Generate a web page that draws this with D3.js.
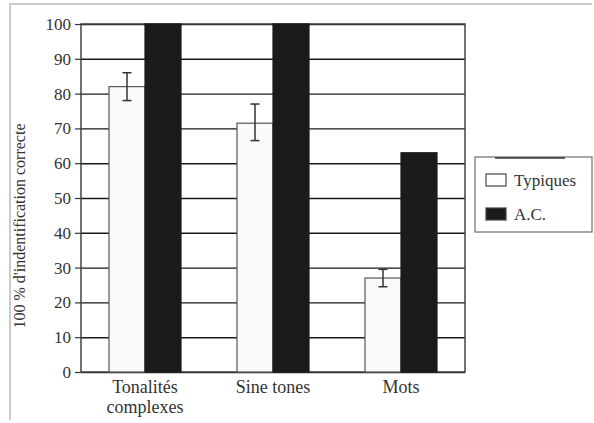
<!DOCTYPE html>
<html>
<head>
<meta charset="utf-8">
<script src="https://cdn.jsdelivr.net/npm/d3@7"></script>
<style>
  body { margin: 0; background: #fff; }
</style>
</head>
<body>
<div id="chart"></div>
<script>
  // data
  var categories = ["Tonalités complexes", "Sine tones", "Mots"];
  var series = ["Typiques", "A.C."];
  var typiques = [82, 71.5, 27];
  var typiquesLow = [78, 66.5, 24.5];
  var typiquesHigh = [86, 77, 29.5];
  var ac = [100, 100, 63];
  var yTicks = [0, 10, 20, 30, 40, 50, 60, 70, 80, 90, 100];

  var serif = "'Liberation Serif'";

  var maxWidth = 594, maxHeight = 423;
  var margin = { top: 24, right: 129, bottom: 51, left: 81 },
    width = maxWidth - margin.left - margin.right,
    height = maxHeight - margin.top - margin.bottom;

  var root = d3.select("#chart").append("svg")
    .attr("width", maxWidth)
    .attr("height", maxHeight);

  // faint frame of the scanned page
  root.append("path")
    .attr("d", "M10,420 L10,4 L592,4")
    .attr("fill", "none")
    .attr("stroke", "#bbb")
    .attr("stroke-width", 1.5);

  var svg = root.append("g")
    .attr("transform", "translate(" + margin.left + "," + margin.top + ")");

  var x = d3.scaleBand()
    .range([0, width])
    .domain(categories);

  var xSub = d3.scaleBand()
    .domain(series)
    .range([0, 72]);

  var y = d3.scaleLinear()
    .range([height, 0])
    .domain([0, 100]);

  // gridlines
  var yAxis = d3.axisLeft(y)
    .tickValues(yTicks)
    .tickSize(-width)
    .tickFormat("");

  svg.append("g")
    .attr("class", "grid")
    .call(yAxis)
    .call(g => g.select(".domain").remove())
    .selectAll("line")
    .attr("stroke", "#1a1a1a")
    .attr("stroke-width", 1.4);

  // frame of plot
  svg.append("rect")
    .attr("width", width)
    .attr("height", height)
    .attr("fill", "none")
    .attr("stroke", "#444")
    .attr("stroke-width", 1.5);

  // tick labels with small outer ticks
  var yLab = svg.append("g")
    .call(d3.axisLeft(y).tickValues(yTicks).tickSize(6).tickPadding(4))
    .call(g => g.select(".domain").remove());
  yLab.selectAll("line").attr("stroke", "#333").attr("stroke-width", 1.2);
  yLab.selectAll("text")
    .style("font-size", "17px")
    .style("font-family", serif)
    .style("fill", "#333");

  var data = categories.map(function (c, i) {
    return { cat: c, vals: [
      { key: "Typiques", v: typiques[i], lo: typiquesLow[i], hi: typiquesHigh[i] },
      { key: "A.C.", v: ac[i] }
    ] };
  });

  var groups = svg.selectAll(".grp")
    .data(data)
    .enter().append("g")
    .attr("class", "grp")
    .attr("transform", function (d) {
      return "translate(" + (x(d.cat) + x.bandwidth() / 2 - 36) + ",0)";
    });

  groups.selectAll("rect")
    .data(function (d) { return d.vals; })
    .enter().append("rect")
    .attr("x", function (d) { return xSub(d.key); })
    .attr("width", xSub.bandwidth())
    .attr("y", function (d) { return y(d.v); })
    .attr("height", function (d) { return height - y(d.v); })
    .style("fill", function (d) { return d.key == "A.C." ? "#1b1b1b" : "#fafafa"; })
    .style("stroke", function (d) { return d.key == "A.C." ? "#1b1b1b" : "#555"; })
    .style("stroke-width", 1.2);

  // error bars
  var err = groups.selectAll(".err")
    .data(function (d) { return d.vals.filter(function (v) { return v.lo != null; }); })
    .enter().append("g")
    .attr("class", "err")
    .attr("stroke", "#333")
    .attr("stroke-width", 1.5);

  var cx = function (d) { return xSub(d.key) + xSub.bandwidth() / 2; };
  err.append("line")
    .attr("x1", cx).attr("x2", cx)
    .attr("y1", function (d) { return y(d.lo); })
    .attr("y2", function (d) { return y(d.hi); });
  err.append("line")
    .attr("x1", function (d) { return cx(d) - 4.5; })
    .attr("x2", function (d) { return cx(d) + 4.5; })
    .attr("y1", function (d) { return y(d.hi); })
    .attr("y2", function (d) { return y(d.hi); });
  err.append("line")
    .attr("x1", function (d) { return cx(d) - 4.5; })
    .attr("x2", function (d) { return cx(d) + 4.5; })
    .attr("y1", function (d) { return y(d.lo); })
    .attr("y2", function (d) { return y(d.lo); });

  // category labels (two lines for the first one)
  var xl = svg.selectAll(".xlab")
    .data(categories)
    .enter().append("text")
    .attr("class", "xlab")
    .attr("text-anchor", "middle")
    .style("font-size", "18px")
    .style("font-family", serif)
    .style("fill", "#333")
    .attr("x", function (d) { return x(d) + x.bandwidth() / 2; })
    .attr("y", height + 21);
  xl.each(function (d) {
    var words = d == "Tonalités complexes" ? ["Tonalités", "complexes"] : [d];
    var t = d3.select(this);
    words.forEach(function (w, i) {
      t.append("tspan")
        .attr("x", t.attr("x"))
        .attr("dy", i == 0 ? 0 : "1.1em")
        .text(w);
    });
  });

  // y label
  svg.append("text")
    .attr("transform", "translate(" + (-56) + "," + (height / 2 + 28) + ") rotate(-90)")
    .attr("text-anchor", "middle")
    .style("font-size", "16px")
    .style("font-family", serif)
    .style("fill", "#333")
    .text("100 % d'indentification correcte");

  // legend
  var legend = root.append("g")
    .attr("transform", "translate(475,157)");
  legend.append("rect")
    .attr("width", 117)
    .attr("height", 75)
    .attr("fill", "#fff")
    .attr("stroke", "#777")
    .attr("stroke-width", 1.3);
  legend.append("line")
    .attr("x1", 20).attr("x2", 90).attr("y1", 1).attr("y2", 1)
    .attr("stroke", "#333").attr("stroke-width", 1.5);
  series.forEach(function (s, i) {
    legend.append("rect")
      .attr("x", 11)
      .attr("y", 17 + i * 34)
      .attr("width", 20)
      .attr("height", 12)
      .attr("fill", s == "A.C." ? "#1b1b1b" : "#fff")
      .attr("stroke", "#444")
      .attr("stroke-width", 1.2);
    legend.append("text")
      .attr("x", 39)
      .attr("y", 29 + i * 34)
      .style("font-size", "17px")
      .style("font-family", serif)
      .style("fill", "#333")
      .text(s);
  });
</script>
</body>
</html>
